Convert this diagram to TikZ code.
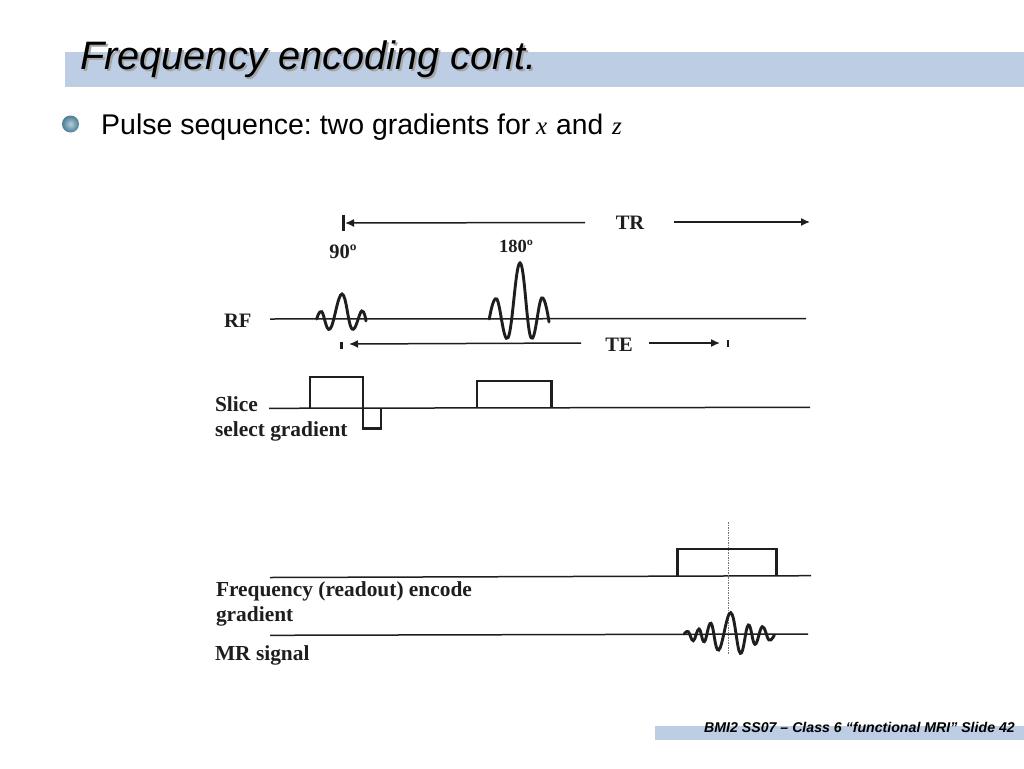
\documentclass[tikz,border=0pt]{standalone}
\usepackage{fontspec}
\setmainfont{Liberation Serif}
\setsansfont{Liberation Sans}
\usetikzlibrary{arrows.meta}
\definecolor{barblue}{HTML}{BCCDE4}
\definecolor{ink}{HTML}{1E1E1E}
\definecolor{balllight}{HTML}{B5D0D6}
\definecolor{balldark}{HTML}{4A7C96}
\frenchspacing
\tikzset{
  x=1pt,y=-1pt,
  bar/.style={fill=barblue,draw=none},
  lbl/.style={inner sep=0pt,outer sep=0pt,text=ink,font=\rmfamily\bfseries\fontsize{20.5}{24}\selectfont},
  lbllong/.style={lbl,font=\rmfamily\bfseries\fontsize{21.4}{24}\selectfont},
  axisline/.style={draw=ink,line width=1.5pt},
  pulse/.style={draw=ink,line width=2.7pt,line join=miter},
  wave/.style={draw=ink,line width=2.9pt,line cap=round},
  dim/.style={draw=ink,line width=1.5pt,-{Latex[length=9pt,width=8pt]}},
  tick/.style={draw=ink,line width=2.4pt},
}
\begin{document}
\begin{tikzpicture}
\useasboundingbox (0,0) rectangle (1024,768);
\fill[white] (0,0) rectangle (1024,768);
% header and footer bars
\path[bar] (65,52) rectangle (1024,87);
\path[bar] (655,726) rectangle (1024,740);
% title
\node[anchor=base west,inner sep=0pt,text=black!35,font=\sffamily\itshape\fontsize{39.7}{44}\selectfont] (titleshadow) at (82,71) {Frequency encoding cont.};
\node[anchor=base west,inner sep=0pt,text=black,font=\sffamily\itshape\fontsize{39.7}{44}\selectfont] (title) at (80,69.5) {Frequency encoding cont.};
% bullet
\node[circle,minimum size=17pt,inner sep=0pt,inner color=balllight,outer color=balldark,draw=none] (bullet) at (70.5,124) {};
\node[anchor=base west,inner sep=0pt,text=black,font=\sffamily\fontsize{28.5}{32}\selectfont] (pulseseq) at (101,134) {Pulse sequence: two gradients for};
\node[anchor=base west,inner sep=0pt,text=black,font=\rmfamily\itshape\fontsize{25}{32}\selectfont] (xvar) at (536,134) {x};
\node[anchor=base west,inner sep=0pt,text=black,font=\sffamily\fontsize{28.2}{32}\selectfont] (andw) at (556,134) {and};
\node[anchor=base west,inner sep=0pt,text=black,font=\rmfamily\itshape\fontsize{25}{32}\selectfont] (zvar) at (612,134) {z};
% footer
\node[anchor=base east,inner sep=0pt,text=black,font=\sffamily\bfseries\itshape\fontsize{14.15}{16}\selectfont] (footer) at (1015,732) {BMI2 SS07 -- Class 6 “functional MRI” Slide 42};
% labels
\node[lbl,anchor=base west] (rf) at (224,327) {RF};
\node[lbl,anchor=base] (deg90) at (343,258) {90º};
\node[lbl,anchor=base,font=\rmfamily\bfseries\fontsize{18.5}{24}\selectfont] (deg180) at (516,252) {180º};
\node[lbl,anchor=base] (tr) at (630,229.5) {TR};
\node[lbl,anchor=base] (te) at (619,351.5) {TE};
\node[lbllong,anchor=base west] (slice) at (215,411) {Slice};
\node[lbllong,anchor=base west] (sel) at (215,436) {select gradient};
\node[lbllong,anchor=base west] (freq) at (216,596) {Frequency (readout) encode};
\node[lbllong,anchor=base west] (grad) at (216,621) {gradient};
\node[lbllong,anchor=base west] (mr) at (215,660) {MR signal};
% TR dimension
\coordinate (trtickA) at (343.5,214.5);
\coordinate (trtickB) at (343.5,231);
\coordinate (trL) at (585,222.5);
\coordinate (trLend) at (345,223);
\coordinate (trR) at (673.5,222);
\coordinate (trRend) at (810,222);
\draw[tick] (trtickA) -- (trtickB);
\draw[dim] (trL) -- (trLend);
\draw[dim] (trR) -- (trRend);
% TE dimension
\coordinate (tetickA) at (341.5,341.5);
\coordinate (tetickB) at (341.5,349);
\coordinate (teL) at (581,343);
\coordinate (teLend) at (349,344);
\coordinate (teR) at (649,343);
\coordinate (teRend) at (720,343);
\coordinate (tetickC) at (728,339.5);
\coordinate (tetickD) at (728,347);
\draw[tick] (tetickA) -- (tetickB);
\draw[tick] (tetickC) -- (tetickD);
\draw[dim] (teL) -- (teLend);
\draw[dim] (teR) -- (teRend);
% baselines
\coordinate (rfA) at (270,319);
\coordinate (rfB) at (806,318.5);
\coordinate (slA) at (269,408.3);
\coordinate (slB) at (810,407.3);
\coordinate (frA) at (270,577.5);
\coordinate (frB) at (811,575.7);
\coordinate (mrA) at (270,635.3);
\coordinate (mrB) at (808,634);
\draw[axisline] (rfA) -- (rfB);
\draw[axisline] (slA) -- (slB);
\draw[axisline] (frA) -- (frB);
\draw[axisline] (mrA) -- (mrB);
% dotted echo line
\coordinate (echoA) at (728.7,522);
\coordinate (echoB) at (728.7,654);
\draw[black!55,line width=1.3pt,dash pattern=on 1.5pt off 1pt] (echoA) -- (echoB);
% slice gradient pulses
\draw[pulse] (310,408) -- (310,377) -- (363,377) -- (363,428.7) -- (381,428.7) -- (381,408);
\draw[pulse] (477,408) -- (477,381) -- (551.3,381) -- (551.3,408);
% readout pulse
\draw[pulse] (677.7,576.5) -- (677.7,549) -- (776.7,549) -- (776.7,576);
% RF waves
\draw[wave] plot[smooth,tension=0.7] coordinates {(316.7,319) (321.7,311.7) (330,329) (342,294) (352,329) (361.7,311) (366,321)};
\draw[wave] plot[smooth,tension=0.7] coordinates {(489.3,319) (496.7,299) (508,337.7) (520,263) (531,337.7) (541.7,298) (549,322)};
% MR signal
\draw[wave] plot[smooth,tension=0.7] coordinates {(684.3,634) (688.3,631.7) (693.3,640.7) (699,629) (704.3,641.7) (711,623.3) (718.7,650) (730.7,612.7) (740.3,653.3) (748.3,625) (755,644.3) (762.3,626.7) (769,640) (774.3,635)};
\end{tikzpicture}
\end{document}
